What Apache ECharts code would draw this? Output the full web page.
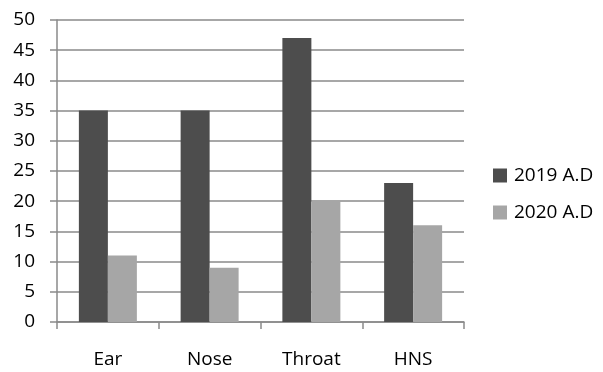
<!DOCTYPE html>
<html>
<head>
<meta charset="utf-8">
<script src="https://cdn.jsdelivr.net/npm/echarts@6/dist/echarts.min.js"></script>
<style>
  html, body { margin: 0; padding: 0; background: #fff; }
  #chart { width: 603px; height: 372px; }
</style>
</head>
<body>
<div id="chart"></div>
<script>
// ENT case counts by region, two years
const categories = ['Ear', 'Nose', 'Throat', 'HNS'];
const series2019 = [35, 35, 47, 23];
const series2020 = [11, 9, 20, 16];
const seriesNames = ['2019 A.D', '2020 A.D'];
const yTicks = { min: 0, max: 50, interval: 5 };

const FONT = '"Open Sans", "Noto Sans", sans-serif';
const GRID_COLOR = '#8a8a8a';

const chart = echarts.init(document.getElementById('chart'), null, { renderer: 'canvas' });
chart.setOption({
  animation: false,
  backgroundColor: '#ffffff',
  textStyle: { fontFamily: FONT },
  grid: { left: 57, right: 139, top: 20, bottom: 50, containLabel: false },
  legend: {
    orient: 'vertical',
    left: 493,
    top: 166,
    padding: 0,
    itemWidth: 14,
    itemHeight: 14,
    itemGap: 18,
    icon: 'rect',
    textStyle: { fontFamily: FONT, fontSize: 19, color: '#000', padding: [0, 0, 0, 2] },
    data: seriesNames
  },
  xAxis: {
    type: 'category',
    data: categories,
    axisLine: { lineStyle: { color: GRID_COLOR, width: 1.5 } },
    axisTick: { show: true, length: 7, alignWithLabel: false, lineStyle: { color: GRID_COLOR, width: 1.5 } },
    axisLabel: { margin: 28, fontFamily: FONT, fontSize: 19, color: '#000' }
  },
  yAxis: {
    type: 'value',
    min: yTicks.min,
    max: yTicks.max,
    interval: yTicks.interval,
    axisLine: { show: true, lineStyle: { color: GRID_COLOR, width: 1.5 } },
    axisTick: { show: true, length: 7, lineStyle: { color: GRID_COLOR, width: 1.5 } },
    splitLine: { show: true, lineStyle: { color: GRID_COLOR, width: 1.5 } },
    axisLabel: { margin: 22, fontFamily: FONT, fontSize: 19, color: '#000' }
  },
  series: [
    {
      name: seriesNames[0],
      type: 'bar',
      data: series2019,
      barGap: '0%',
      barCategoryGap: '43%',
      itemStyle: { color: '#4d4d4d' }
    },
    {
      name: seriesNames[1],
      type: 'bar',
      data: series2020,
      barGap: '0%',
      barCategoryGap: '43%',
      itemStyle: { color: '#a6a6a6' }
    }
  ]
});
</script>
</body>
</html>
